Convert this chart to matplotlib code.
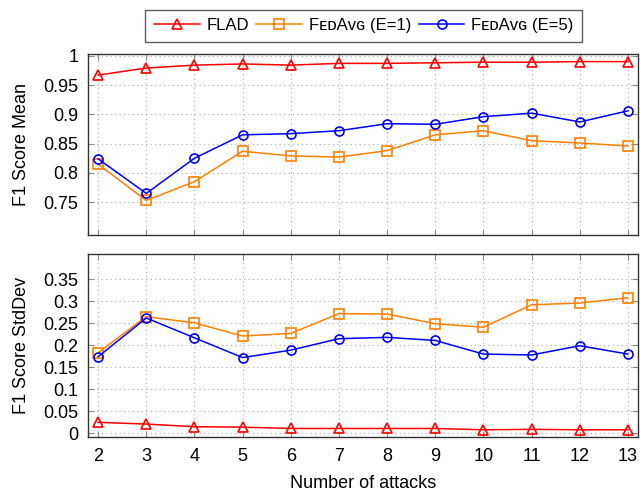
import matplotlib
matplotlib.use('Agg')
import matplotlib.pyplot as plt

plt.rcParams['font.family'] = ['Liberation Sans', 'DejaVu Sans']
plt.rcParams['font.size'] = 13

# data
attacks = [2, 3, 4, 5, 6, 7, 8, 9, 10, 11, 12, 13]

flad_mean = [0.967, 0.979, 0.984, 0.986, 0.984, 0.987, 0.987, 0.988, 0.989, 0.989, 0.990, 0.990]
fedavg1_mean = [0.815, 0.753, 0.785, 0.837, 0.829, 0.827, 0.838, 0.865, 0.872, 0.855, 0.851, 0.846]
fedavg5_mean = [0.824, 0.765, 0.825, 0.865, 0.867, 0.872, 0.884, 0.883, 0.896, 0.902, 0.887, 0.906]

flad_std = [0.025, 0.021, 0.015, 0.014, 0.011, 0.011, 0.011, 0.011, 0.008, 0.009, 0.008, 0.008]
fedavg1_std = [0.183, 0.265, 0.251, 0.221, 0.227, 0.272, 0.271, 0.249, 0.241, 0.292, 0.296, 0.308]
fedavg5_std = [0.174, 0.262, 0.217, 0.172, 0.189, 0.215, 0.218, 0.211, 0.180, 0.178, 0.199, 0.180]

labels = ['FLAD', 'F\u1d07\u1d05A\u1d20\u0262 (E=1)', 'F\u1d07\u1d05A\u1d20\u0262 (E=5)']
colors = ['#ff0000', '#ff8000', '#0000ff']
markers = ['^', 's', 'o']
msizes = [7, 6.5, 6.5]

mean_ticks = [0.75, 0.8, 0.85, 0.9, 0.95, 1]
std_ticks = [0, 0.05, 0.1, 0.15, 0.2, 0.25, 0.3, 0.35]

fig = plt.figure(figsize=(6.4, 4.94), dpi=100)
ax1 = fig.add_axes([0.1375, 0.5243, 0.8595, 0.3664])
ax2 = fig.add_axes([0.1375, 0.116, 0.8595, 0.3699])


def fmt_tick(t):
    return ('%.2f' % t).rstrip('0').rstrip('.')


def style_axis(ax, ticks):
    ax.set_xlim(1.79, 13.21)
    ax.set_xticks(attacks)
    ax.set_yticks(ticks)
    ax.set_yticklabels([fmt_tick(t) for t in ticks])
    ax.grid(True, linestyle=(0, (1, 3)), color='#aaaaaa', linewidth=0.8)
    ax.tick_params(direction='in', length=4, color='#888888', top=True, right=True,
                   labelsize=13)
    ax.tick_params(axis='y', pad=7)
    ax.tick_params(axis='x', pad=8)
    for s in ax.spines.values():
        s.set_linewidth(1.0)
        s.set_color('#333333')
    ax.set_axisbelow(True)


series_mean = [flad_mean, fedavg1_mean, fedavg5_mean]
series_std = [flad_std, fedavg1_std, fedavg5_std]

for ys, lab, c, m, ms in zip(series_mean, labels, colors, markers, msizes):
    ax1.plot(attacks, ys, color=c, marker=m, markersize=ms, markerfacecolor='none',
             markeredgewidth=1.2, linewidth=1.1, label=lab)
for ys, lab, c, m, ms in zip(series_std, labels, colors, markers, msizes):
    ax2.plot(attacks, ys, color=c, marker=m, markersize=ms, markerfacecolor='none',
             markeredgewidth=1.2, linewidth=1.1, label=lab)

ax1.set_ylim(0.694, 1.003)
ax2.set_ylim(-0.0077, 0.4075)
style_axis(ax1, mean_ticks)
style_axis(ax2, std_ticks)
ax1.set_xticklabels([])

ax1.set_ylabel('F1 Score Mean', fontsize=13)
ax2.set_ylabel('F1 Score StdDev', fontsize=13)
ax2.set_xlabel('Number of attacks', fontsize=13, labelpad=7.5)
ax1.yaxis.set_label_coords(-0.106, 0.5)
ax2.yaxis.set_label_coords(-0.106, 0.5)

leg = ax1.legend(loc='center', bbox_to_anchor=(0.501, 1.156), ncol=3, frameon=True,
                 fancybox=False, edgecolor='#333333', fontsize=12, handlelength=2.75,
                 columnspacing=0.45, handletextpad=0.4, borderpad=0.5,
                 borderaxespad=0)
leg.get_frame().set_linewidth(1.0)

fig.savefig('out.png', dpi=100)
